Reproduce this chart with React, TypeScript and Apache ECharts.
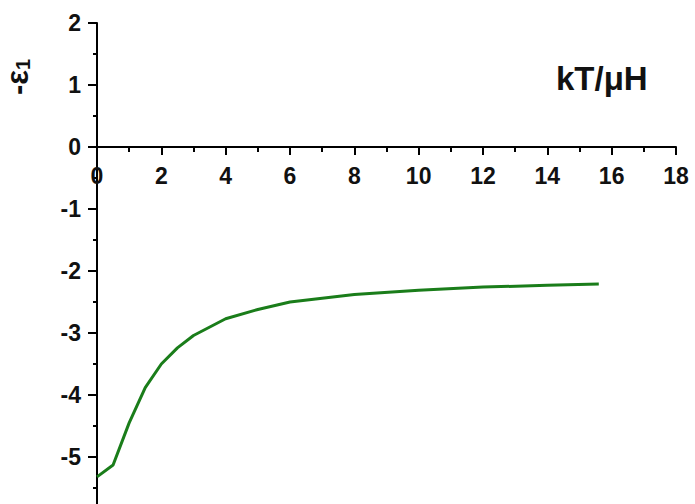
import React, { useEffect, useRef } from "react";
import * as echarts from "echarts";

const xValues = [0, 0.5, 1, 1.5, 2, 2.5, 3, 4, 5, 6, 8, 10, 12, 14, 15.6];
const yValues = [-5.32, -5.13, -4.45, -3.88, -3.5, -3.24, -3.04, -2.77, -2.62, -2.5, -2.38, -2.31, -2.26, -2.23, -2.21];
const xTicks = { min: 0, max: 18, interval: 2 };
const yTicks = { min: -6, max: 2, interval: 1 };
const xTitle = "kT/μH";

const CHART_H = 519;
const GRID_TOP = 23;

export default function App() {
  const ref = useRef<HTMLDivElement>(null);
  useEffect(() => {
    if (!ref.current) return;
    const chart = echarts.init(ref.current, null, { renderer: "svg" });
    const font = "Liberation Sans";
    const gridH = CHART_H - GRID_TOP;
    const zeroOffset = (gridH * (0 - yTicks.min)) / (yTicks.max - yTicks.min);
    chart.setOption({
      animation: false,
      backgroundColor: "#ffffff",
      grid: { left: 97, right: 19, top: GRID_TOP, bottom: 0, outerBoundsMode: "none", containLabel: false },
      xAxis: {
        type: "value",
        position: "bottom",
        offset: -zeroOffset,
        min: xTicks.min,
        max: xTicks.max,
        interval: xTicks.interval,
        axisLine: { onZero: false, lineStyle: { color: "#000", width: 2 } },
        axisTick: { show: true, inside: false, length: 8, lineStyle: { color: "#000", width: 2 } },
        minorTick: { show: true, splitNumber: 2, length: 5, lineStyle: { color: "#000", width: 2 } },
        splitLine: { show: false },
        axisLabel: { fontFamily: font, fontWeight: "bold", fontSize: 23, color: "#111", margin: 17 },
      },
      yAxis: {
        type: "value",
        min: yTicks.min,
        max: yTicks.max,
        interval: yTicks.interval,
        axisLine: { show: true, onZero: false, lineStyle: { color: "#000", width: 2 } },
        axisTick: { show: true, inside: false, length: 9, lineStyle: { color: "#000", width: 2 } },
        minorTick: { show: true, splitNumber: 2, length: 4, lineStyle: { color: "#000", width: 2 } },
        splitLine: { show: false },
        axisLabel: { fontFamily: font, fontWeight: "bold", fontSize: 23, color: "#111", margin: 16, showMinLabel: false },
      },
      graphic: [
        {
          type: "text",
          left: 556,
          top: 62,
          style: { text: xTitle, fontFamily: font, fontWeight: "bold", fontSize: 33, fill: "#111" },
        },
        {
          type: "text",
          x: 1,
          y: 95,
          rotation: Math.PI / 2,
          style: {
            text: "-ε{sub|1}",
            fontFamily: font,
            fontWeight: "bold",
            fontSize: 31,
            fill: "#111",
            rich: { sub: { fontFamily: font, fontWeight: "bold", fontSize: 20, fill: "#111", verticalAlign: "bottom", padding: [12, 0, 0, 0] } },
          },
        },
      ],
      series: [
        {
          type: "line",
          data: xValues.map((x, i) => [x, yValues[i]]),
          showSymbol: false,
          symbol: "none",
          smooth: false,
          lineStyle: { color: "#1a7d1a", width: 3 },
        },
      ],
    });
    return () => chart.dispose();
  }, []);
  return (
    <div style={{ position: "fixed", left: 0, top: 0, width: 695, height: 504, overflow: "hidden", background: "#fff" }}>
      <div ref={ref} style={{ width: 695, height: CHART_H }} />
    </div>
  );
}
